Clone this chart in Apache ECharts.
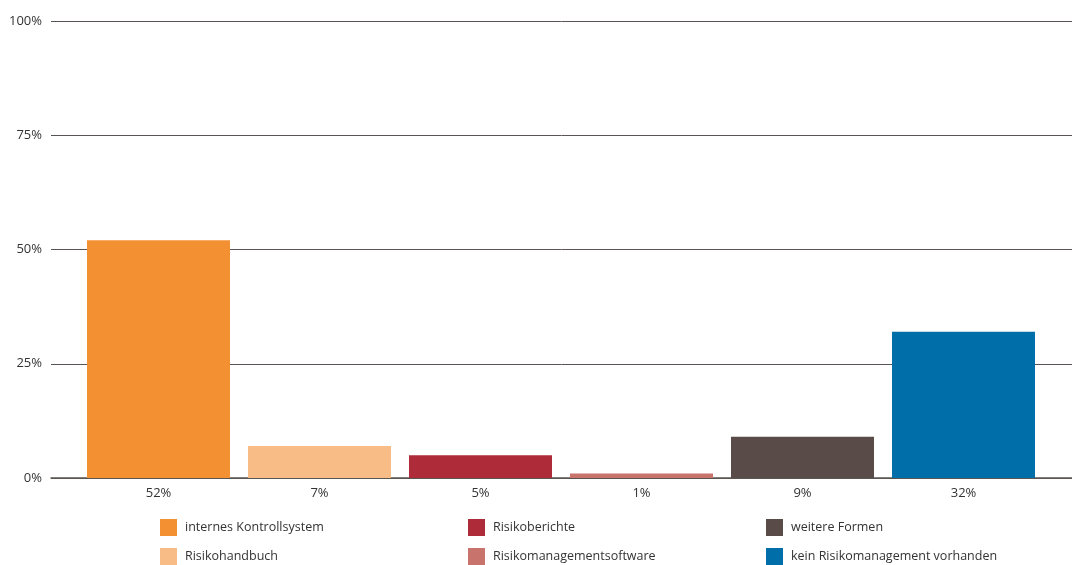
<!DOCTYPE html>
<html>
<head>
<meta charset="utf-8">
<script src="https://cdn.jsdelivr.net/npm/echarts@6/dist/echarts.min.js"></script>
<style>
  html, body { margin: 0; padding: 0; background: #fff; }
  #chart { width: 1072px; height: 565px; }
</style>
</head>
<body>
<div id="chart"></div>
<script>
// Forms of risk management (share of respondents, %)
const seriesNames = [
  'internes Kontrollsystem',
  'Risikohandbuch',
  'Risikoberichte',
  'Risikomanagementsoftware',
  'weitere Formen',
  'kein Risikomanagement vorhanden'
];
const values = [52, 7, 5, 1, 9, 32];
const categoryLabels = ['52%', '7%', '5%', '1%', '9%', '32%'];
const colors = ['#F39132', '#F8BC87', '#AE2B3A', '#C8736B', '#594C48', '#006FA9'];
const yTicks = [0, 25, 50, 75, 100];

const FONT = '"Open Sans", "Noto Sans", sans-serif';

// one series per category so that each bar gets its own legend entry
const series = seriesNames.map((name, i) => ({
  name,
  type: 'bar',
  xAxisIndex: 1,
  yAxisIndex: 1,
  barWidth: 143,
  barGap: '-100%',
  itemStyle: { color: colors[i] },
  data: values.map((v, j) => (j === i ? v : '-'))
}));

const legendBase = {
  orient: 'vertical',
  top: 519,
  height: 60,
  padding: 0,
  itemWidth: 17,
  itemHeight: 17,
  itemGap: 12,
  icon: 'rect',
  textStyle: { fontFamily: FONT, fontSize: 12.5, color: '#333', padding: [0, 0, 0, 3] }
};

const option = {
  animation: false,
  backgroundColor: '#fff',
  color: colors,
  grid: [
    // background grid: horizontal rules and y-axis labels
    { left: 51, right: 0, top: 21, bottom: 565 - 478 },
    // bar grid
    { left: 78, right: 28, top: 21, bottom: 565 - 478 }
  ],
  xAxis: [
    {
      gridIndex: 0, type: 'value', min: 0, max: 1,
      axisLine: { show: true, onZero: false, lineStyle: { color: '#5a5552', width: 1.5 } },
      axisTick: { show: false }, axisLabel: { show: false }, splitLine: { show: false }
    },
    {
      gridIndex: 1, type: 'category', data: categoryLabels,
      axisLine: { show: false }, axisTick: { show: false },
      axisLabel: { fontFamily: FONT, fontSize: 13, color: '#333', margin: 9 }
    }
  ],
  yAxis: [
    {
      gridIndex: 0, type: 'value', min: 0, max: 100, interval: 25,
      axisLine: { show: false }, axisTick: { show: false },
      axisLabel: {
        fontFamily: FONT, fontSize: 13, color: '#333', margin: 9,
        formatter: v => (yTicks.includes(v) ? v + '%' : '')
      },
      splitLine: { show: true, lineStyle: { color: '#5a5552', width: 1 } }
    },
    {
      gridIndex: 1, type: 'value', min: 0, max: 100, interval: 25,
      show: false, splitLine: { show: false }
    }
  ],
  legend: [
    Object.assign({}, legendBase, { left: 160, data: [seriesNames[0], seriesNames[1]] }),
    Object.assign({}, legendBase, { left: 468, data: [seriesNames[2], seriesNames[3]] }),
    Object.assign({}, legendBase, { left: 766, data: [seriesNames[4], seriesNames[5]] })
  ],
  series
};

const chart = echarts.init(document.getElementById('chart'), null, { renderer: 'canvas' });
chart.setOption(option);
</script>
</body>
</html>
